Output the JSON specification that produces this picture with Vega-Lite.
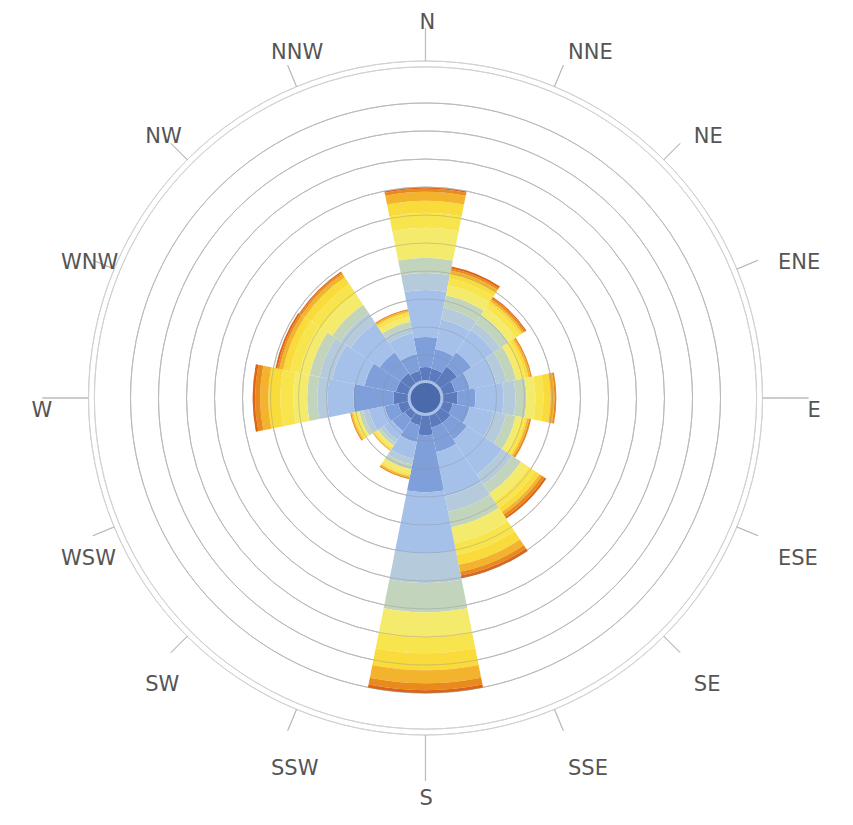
{
  "$schema": "https://vega.github.io/schema/vega-lite/v6.json",
  "width": 851,
  "height": 796,
  "autosize": "none",
  "padding": {"left": 0, "top": 0, "right": 2, "bottom": 29},
  "background": "white",
  "config": {"view": {"stroke": null}},
  "resolve": {"scale": {"theta": "independent"}},
  "layer": [
    {
      "data": {"values": [{"g": 1}, {"g": 2}, {"g": 3}, {"g": 4}, {"g": 5}, {"g": 6}, {"g": 7}, {"g": 8}, {"g": 9}, {"g": 10}, {"g": 11.29}, {"g": 11.5}]},
      "mark": {"type": "arc", "filled": false, "stroke": "#d2d2d2", "strokeWidth": 1},
      "encoding": {
        "radius": {"field": "g", "type": "quantitative", "stack": null, "scale": {"type": "linear", "domain": [0, 11.5], "range": [15, 337], "zero": false}},
        "radius2": {"field": "g"}
      }
    },
    {
      "data": {"values": [
        {"d": "N", "b01": 0.57, "b02": 1.07, "b03": 1.68, "b04": 0.61, "b05": 0.54, "b06": 1.07, "b07": 0.54, "b08": 0.43, "b09": 0.32, "b10": 0.11, "b11": 0.04},
        {"d": "NNE", "b01": 0.54, "b02": 0.71, "b03": 1.07, "b04": 0.43, "b05": 0.46, "b06": 0.36, "b07": 0.25, "b08": 0.18, "b09": 0.11, "b10": 0.07, "b11": 0.07},
        {"d": "NE", "b01": 0.82, "b02": 0.61, "b03": 0.96, "b04": 0.29, "b05": 0.36, "b06": 0.29, "b07": 0.18, "b08": 0.11, "b09": 0.07, "b10": 0.07, "b11": 0.04},
        {"d": "ENE", "b01": 0.54, "b02": 0.54, "b03": 0.96, "b04": 0.36, "b05": 0.36, "b06": 0.21, "b07": 0.14, "b08": 0.11, "b09": 0.07, "b10": 0.05, "b11": 0},
        {"d": "E", "b01": 0.61, "b02": 0.64, "b03": 1.0, "b04": 0.43, "b05": 0.39, "b06": 0.32, "b07": 0.29, "b08": 0.25, "b09": 0.14, "b10": 0.07, "b11": 0},
        {"d": "ESE", "b01": 0.46, "b02": 0.61, "b03": 0.89, "b04": 0.43, "b05": 0.36, "b06": 0.21, "b07": 0.14, "b08": 0.07, "b09": 0.07, "b10": 0.07, "b11": 0},
        {"d": "SE", "b01": 0.54, "b02": 0.71, "b03": 1.5, "b04": 0.43, "b05": 0.39, "b06": 0.32, "b07": 0.29, "b08": 0.18, "b09": 0.11, "b10": 0.11, "b11": 0.07},
        {"d": "SSE", "b01": 0.54, "b02": 0.89, "b03": 1.61, "b04": 0.57, "b05": 0.57, "b06": 0.57, "b07": 0.43, "b08": 0.36, "b09": 0.25, "b10": 0.14, "b11": 0.11},
        {"d": "S", "b01": 0.79, "b02": 2.04, "b03": 2.18, "b04": 1.07, "b05": 1.04, "b06": 0.89, "b07": 0.57, "b08": 0.61, "b09": 0.46, "b10": 0.25, "b11": 0.11},
        {"d": "SSW", "b01": 0.46, "b02": 0.61, "b03": 0.61, "b04": 0.21, "b05": 0.18, "b06": 0.14, "b07": 0.07, "b08": 0.04, "b09": 0.05, "b10": 0.05, "b11": 0},
        {"d": "SW", "b01": 0.36, "b02": 0.54, "b03": 0.36, "b04": 0.14, "b05": 0.11, "b06": 0.07, "b07": 0.07, "b08": 0.04, "b09": 0.04, "b10": 0, "b11": 0},
        {"d": "WSW", "b01": 0.46, "b02": 0.5, "b03": 0.57, "b04": 0.21, "b05": 0.14, "b06": 0.11, "b07": 0.07, "b08": 0.07, "b09": 0.04, "b10": 0.04, "b11": 0},
        {"d": "W", "b01": 0.61, "b02": 1.43, "b03": 0.93, "b04": 0.36, "b05": 0.36, "b06": 0.5, "b07": 0.46, "b08": 0.43, "b09": 0.29, "b10": 0.18, "b11": 0.09},
        {"d": "WNW", "b01": 0.54, "b02": 1.14, "b03": 1.18, "b04": 0.46, "b05": 0.36, "b06": 0.36, "b07": 0.36, "b08": 0.25, "b09": 0.14, "b10": 0.07, "b11": 0.07},
        {"d": "NW", "b01": 0.54, "b02": 0.89, "b03": 1.25, "b04": 0.43, "b05": 0.36, "b06": 0.46, "b07": 0.43, "b08": 0.29, "b09": 0.14, "b10": 0.07, "b11": 0.04},
        {"d": "NNW", "b01": 0.46, "b02": 0.61, "b03": 0.75, "b04": 0.21, "b05": 0.21, "b06": 0.18, "b07": 0.11, "b08": 0.07, "b09": 0.05, "b10": 0.05, "b11": 0}
      ]},
      "transform": [
        {"fold": ["b01", "b02", "b03", "b04", "b05", "b06", "b07", "b08", "b09", "b10", "b11"], "as": ["bin", "v"]},
        {"stack": "v", "groupby": ["d"], "sort": [{"field": "bin", "order": "ascending"}], "as": ["v0", "v1"]}
      ],
      "mark": {"type": "arc"},
      "encoding": {
        "theta": {"field": "d", "type": "nominal", "sort": ["N", "NNE", "NE", "ENE", "E", "ESE", "SE", "SSE", "S", "SSW", "SW", "WSW", "W", "WNW", "NW", "NNW"],
          "scale": {"type": "band", "domain": ["N", "NNE", "NE", "ENE", "E", "ESE", "SE", "SSE", "S", "SSW", "SW", "WSW", "W", "WNW", "NW", "NNW"], "range": [-0.19635, 6.086836], "paddingInner": 0, "paddingOuter": 0}},
        "radius": {"field": "v1", "type": "quantitative", "stack": null, "scale": {"type": "linear", "domain": [0, 11.5], "range": [15, 337], "zero": false}},
        "radius2": {"field": "v0"},
        "color": {"field": "bin", "type": "nominal", "legend": null,
          "scale": {"domain": ["b01", "b02", "b03", "b04", "b05", "b06", "b07", "b08", "b09", "b10", "b11"],
            "range": ["#5b7bbd", "#7f9fdb", "#a5c1ea", "#b5cadb", "#c3d4bc", "#f4ea6c", "#f8e54e", "#f9db3c", "#f3b32d", "#e98a1c", "#dc6414"]}}
      }
    },
    {
      "data": {"values": [{"g": 1}, {"g": 2}, {"g": 3}, {"g": 4}, {"g": 5}, {"g": 6}, {"g": 7}, {"g": 8}, {"g": 9}, {"g": 10}]},
      "mark": {"type": "arc", "filled": false, "stroke": "#8a8a8a", "strokeOpacity": 0.2, "strokeWidth": 1},
      "encoding": {
        "radius": {"field": "g", "type": "quantitative", "stack": null, "scale": {"type": "linear", "domain": [0, 11.5], "range": [15, 337], "zero": false}},
        "radius2": {"field": "g"}
      }
    },
    {
      "data": {"values": [{"calm": 0.05}]},
      "mark": {"type": "arc", "fill": "#4b6aac", "stroke": "#a8bfe6", "strokeWidth": 3},
      "encoding": {
        "radius": {"field": "calm", "type": "quantitative", "stack": null, "scale": {"type": "linear", "domain": [0, 11.5], "range": [15, 337], "zero": false}},
        "radius2": {"value": 0}
      }
    },
    {
      "data": {"values": [{"d": "NNE"}, {"d": "NE"}, {"d": "ENE"}, {"d": "ESE"}, {"d": "SE"}, {"d": "SSE"}, {"d": "SSW"}, {"d": "SW"}, {"d": "WSW"}, {"d": "WNW"}, {"d": "NW"}, {"d": "NNW"}]},
      "mark": {"type": "arc", "filled": false, "stroke": "#bdbdbd", "strokeWidth": 1},
      "encoding": {
        "theta": {"field": "d", "type": "nominal", "sort": ["N", "NNE", "NE", "ENE", "E", "ESE", "SE", "SSE", "S", "SSW", "SW", "WSW", "W", "WNW", "NW", "NNW"],
          "scale": {"type": "band", "domain": ["N", "NNE", "NE", "ENE", "E", "ESE", "SE", "SSE", "S", "SSW", "SW", "WSW", "W", "WNW", "NW", "NNW"], "range": [-0.19635, 6.086836], "paddingInner": 0.998, "paddingOuter": 0.499}},
        "radius": {"datum": 12.32, "type": "quantitative", "stack": null, "scale": {"type": "linear", "domain": [0, 11.5], "range": [15, 337], "zero": false}},
        "radius2": {"datum": 11.5}
      }
    },
    {
      "data": {"values": [{"d": "E"}, {"d": "S"}, {"d": "W"}]},
      "mark": {"type": "arc", "filled": false, "stroke": "#bdbdbd", "strokeWidth": 1},
      "encoding": {
        "theta": {"field": "d", "type": "nominal", "sort": ["N", "NNE", "NE", "ENE", "E", "ESE", "SE", "SSE", "S", "SSW", "SW", "WSW", "W", "WNW", "NW", "NNW"],
          "scale": {"type": "band", "domain": ["N", "NNE", "NE", "ENE", "E", "ESE", "SE", "SSE", "S", "SSW", "SW", "WSW", "W", "WNW", "NW", "NNW"], "range": [-0.19635, 6.086836], "paddingInner": 0.998, "paddingOuter": 0.499}},
        "radius": {"datum": 13.14, "type": "quantitative", "stack": null, "scale": {"type": "linear", "domain": [0, 11.5], "range": [15, 337], "zero": false}},
        "radius2": {"datum": 11.5}
      }
    },
    {
      "data": {"values": [{"d": "N"}]},
      "mark": {"type": "arc", "filled": false, "stroke": "#bdbdbd", "strokeWidth": 1},
      "encoding": {
        "theta": {"field": "d", "type": "nominal", "sort": ["N", "NNE", "NE", "ENE", "E", "ESE", "SE", "SSE", "S", "SSW", "SW", "WSW", "W", "WNW", "NW", "NNW"],
          "scale": {"type": "band", "domain": ["N", "NNE", "NE", "ENE", "E", "ESE", "SE", "SSE", "S", "SSW", "SW", "WSW", "W", "WNW", "NW", "NNW"], "range": [-0.19635, 6.086836], "paddingInner": 0.998, "paddingOuter": 0.499}},
        "radius": {"datum": 12.68, "type": "quantitative", "stack": null, "scale": {"type": "linear", "domain": [0, 11.5], "range": [15, 337], "zero": false}},
        "radius2": {"datum": 11.5}
      }
    },
    {
      "data": {"values": [{"d": "N"}, {"d": "NNE"}, {"d": "NE"}, {"d": "ENE"}, {"d": "E"}, {"d": "ESE"}, {"d": "SE"}, {"d": "SSE"}, {"d": "S"}, {"d": "SSW"}, {"d": "SW"}, {"d": "WSW"}, {"d": "W"}, {"d": "WNW"}, {"d": "NW"}, {"d": "NNW"}]},
      "mark": {"type": "text", "font": "DejaVu Sans", "fontSize": 21, "color": "#555555", "align": "left", "baseline": "middle", "dx": -6, "dy": 13},
      "encoding": {
        "theta": {"field": "d", "type": "nominal", "sort": ["N", "NNE", "NE", "ENE", "E", "ESE", "SE", "SSE", "S", "SSW", "SW", "WSW", "W", "WNW", "NW", "NNW"],
          "scale": {"type": "point", "domain": ["N", "NNE", "NE", "ENE", "E", "ESE", "SE", "SSE", "S", "SSW", "SW", "WSW", "W", "WNW", "NW", "NNW"], "range": [0, 5.890486], "padding": 0}},
        "radius": {"datum": 13.32, "type": "quantitative", "stack": null, "scale": {"type": "linear", "domain": [0, 11.5], "range": [15, 337], "zero": false}},
        "text": {"field": "d", "type": "nominal"}
      }
    }
  ]
}
